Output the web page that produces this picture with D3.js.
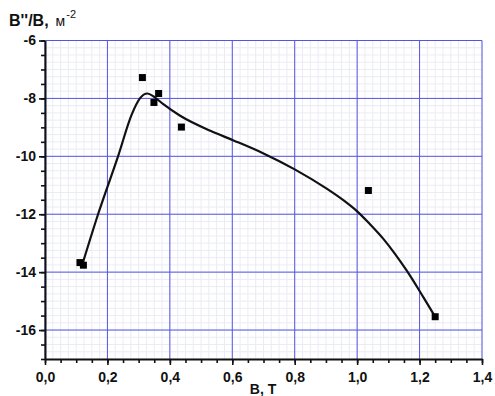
<!DOCTYPE html>
<html>
<head>
<meta charset="utf-8">
<script src="https://cdn.jsdelivr.net/npm/d3@7"></script>
<style>
  body { margin: 0; background: #fff; }
  svg { display: block; font-family: "Liberation Sans", Arial, sans-serif; }
</style>
</head>
<body>
<svg id="chart" width="495" height="396"></svg>
<script>
// Measured points: field B (T) and B''/B (m^-2)
const pointB = [0.112, 0.123, 0.312, 0.349, 0.364, 0.437, 1.036, 1.25];
const pointRatio = [-13.67, -13.76, -7.28, -8.14, -7.83, -8.99, -11.18, -15.54];

// Smoothed trend curve
const curveB = [0.12, 0.17, 0.234, 0.278, 0.304, 0.328, 0.35, 0.379, 0.433, 0.53, 0.604, 0.7, 0.8, 0.9, 0.96, 1.0, 1.04, 1.084, 1.12, 1.159, 1.213, 1.25];
const curveRatio = [-13.72, -12.0, -10.0, -8.55, -8.0, -7.83, -7.95, -8.2, -8.6, -9.12, -9.45, -9.9, -10.45, -11.1, -11.55, -11.9, -12.33, -12.85, -13.35, -13.95, -14.88, -15.54];

// Axis ticks
const xTicks = [0, 0.2, 0.4, 0.6, 0.8, 1.0, 1.2, 1.4];
const yTicks = [-16, -14, -12, -10, -8, -6];

const svg = d3.select("#chart");
const x = d3.scaleLinear().domain([0, 1.4]).range([45, 482]);
const y = d3.scaleLinear().domain([-17, -6]).range([359, 40.5]);

const fmt = d => d3.format(".1f")(d).replace(".", ",");

// fine grid
const grid = svg.append("g");
d3.range(0, 1.4001, 0.025).forEach(v => {
  grid.append("line").attr("x1", x(v)).attr("x2", x(v)).attr("y1", y(-6)).attr("y2", y(-17))
    .attr("stroke", "#ebebf6").attr("stroke-width", 1);
});
d3.range(-17, -5.999, 0.25).forEach(v => {
  grid.append("line").attr("x1", x(0)).attr("x2", x(1.4)).attr("y1", y(v)).attr("y2", y(v))
    .attr("stroke", "#ebebf6").attr("stroke-width", 1);
});
// major grid
xTicks.forEach(v => {
  grid.append("line").attr("x1", x(v)).attr("x2", x(v)).attr("y1", y(-6)).attr("y2", y(-17))
    .attr("stroke", "#5555e4").attr("stroke-width", 1);
});
yTicks.forEach(v => {
  grid.append("line").attr("x1", x(0)).attr("x2", x(1.4)).attr("y1", y(v)).attr("y2", y(v))
    .attr("stroke", "#5555e4").attr("stroke-width", 1);
});

// axes
const xMinor = svg.append("g").attr("transform", `translate(0,${y(-17)})`)
  .call(d3.axisBottom(x).tickValues(d3.range(0, 1.4001, 0.05)).tickSize(4).tickFormat(""));
const xAxis = svg.append("g").attr("transform", `translate(0,${y(-17)})`)
  .call(d3.axisBottom(x).tickValues(xTicks).tickSize(6).tickSizeOuter(0).tickFormat(fmt));
const yMinor = svg.append("g").attr("transform", `translate(${x(0)},0)`)
  .call(d3.axisLeft(y).tickValues(d3.range(-17, -5.999, 0.5)).tickSize(4).tickFormat(""));
const yAxis = svg.append("g").attr("transform", `translate(${x(0)},0)`)
  .call(d3.axisLeft(y).tickValues(yTicks).tickSize(6).tickSizeOuter(0).tickFormat(d => d));

[xMinor, xAxis, yMinor, yAxis].forEach(g => {
  g.select(".domain").attr("stroke", "#111").attr("stroke-width", 2);
  g.selectAll(".tick line").attr("stroke", "#111").attr("stroke-width", 1.6);
});
xMinor.select(".domain").remove();
yMinor.select(".domain").remove();
xAxis.selectAll("text").attr("font-size", 14).attr("font-weight", "bold").attr("fill", "#111").attr("dy", "1.0em");
yAxis.selectAll("text").attr("font-size", 14).attr("font-weight", "bold").attr("fill", "#111").attr("x", -9);

// trend curve
const line = d3.line().x(d => x(d[0])).y(d => y(d[1])).curve(d3.curveMonotoneX);
svg.append("path").datum(d3.zip(curveB, curveRatio)).attr("d", line)
  .attr("fill", "none").attr("stroke", "#111").attr("stroke-width", 2.2);

// measured points
svg.append("g").selectAll("rect").data(d3.zip(pointB, pointRatio)).join("rect")
  .attr("x", d => x(d[0]) - 3.5).attr("y", d => y(d[1]) - 3.5)
  .attr("width", 7).attr("height", 7).attr("fill", "#000");

// axis titles
const t = svg.append("text").attr("x", 9).attr("y", 26).attr("fill", "#111");
t.append("tspan").attr("font-size", 16).attr("font-weight", "bold").text("B''/B,");
t.append("tspan").attr("font-size", 14).attr("dx", 7).text("м");
t.append("tspan").attr("font-size", 11).attr("dy", -8).attr("dx", 1).text("-2");

svg.append("text").attr("x", 263).attr("y", 394).attr("text-anchor", "middle")
  .attr("font-size", 14).attr("font-weight", "bold").attr("fill", "#111").text("B, T");
</script>
</body>
</html>
